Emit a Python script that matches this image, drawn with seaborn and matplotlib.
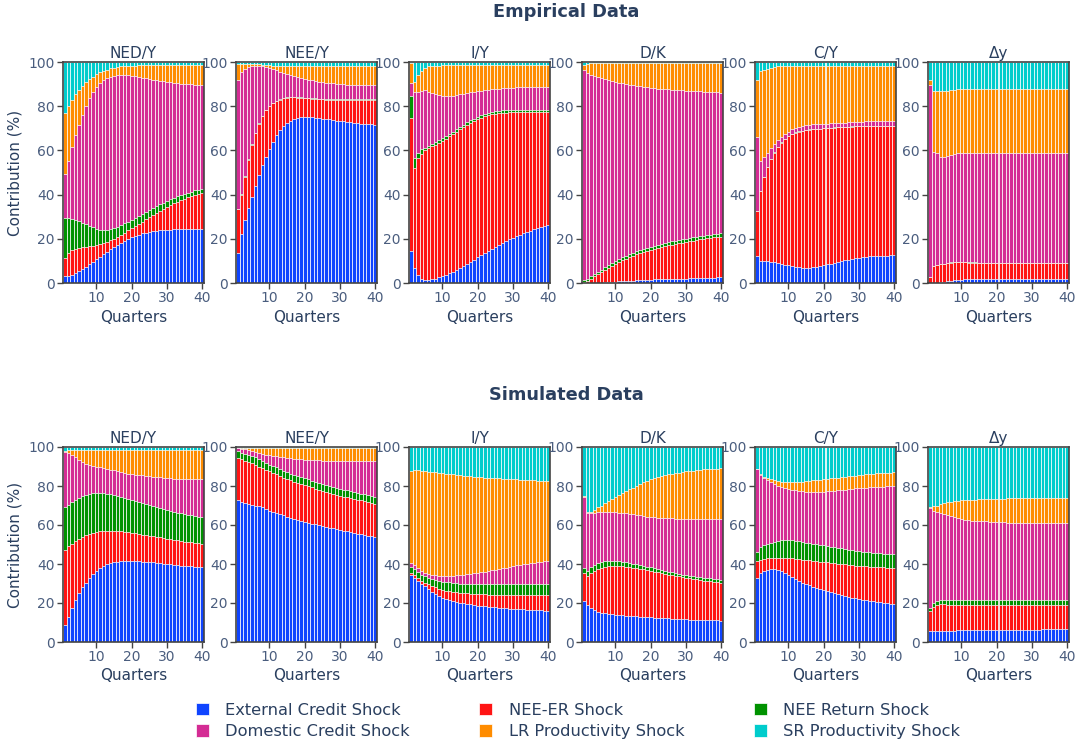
import matplotlib
matplotlib.use("Agg")
import matplotlib.pyplot as plt
from matplotlib.patches import Patch
import seaborn as sns

# ---------------------------------------------------------------------------
# Variance decomposition: cumulative stack tops (%) per quarter, bottom to top
# order = External credit, NEE-ER, NEE return, Domestic credit, LR productivity
# (SR productivity fills the rest up to 100).
# ---------------------------------------------------------------------------
QUARTERS = list(range(1, 41))
SHOCKS = ["External Credit Shock", "NEE-ER Shock", "NEE Return Shock",
          "Domestic Credit Shock", "LR Productivity Shock", "SR Productivity Shock"]
SHOCK_COLORS = ["#0F44FF", "#FF1414", "#009200", "#D42C94", "#FF8C00", "#00CCCC"]
VARIABLES = ["NED/Y", "NEE/Y", "I/Y", "D/K", "C/Y", "Δy"]
ROW_TITLES = ["Empirical Data", "Simulated Data"]

FULL = [100.0, 100.0, 100.0, 100.0, 100.0, 100.0, 100.0, 100.0, 100.0, 100.0,
        100.0, 100.0, 100.0, 100.0, 100.0, 100.0, 100.0, 100.0, 100.0, 100.0,
        100.0, 100.0, 100.0, 100.0, 100.0, 100.0, 100.0, 100.0, 100.0, 100.0,
        100.0, 100.0, 100.0, 100.0, 100.0, 100.0, 100.0, 100.0, 100.0, 100.0]

# ----------------------------- empirical ------------------------------------
emp_ned_y = [
    [3.2, 3.3, 3.8, 4.5, 5.3, 6.3, 7.4, 8.5, 9.6, 10.7,
     11.9, 13.0, 14.1, 15.2, 16.3, 17.3, 18.3, 19.2, 20.0, 20.8,
     21.4, 21.9, 22.4, 22.8, 23.1, 23.4, 23.6, 23.8, 24.0, 24.1,
     24.2, 24.3, 24.4, 24.4, 24.5, 24.5, 24.5, 24.5, 24.5, 24.5],
    [11.5, 13.8, 15.0, 15.6, 16.0, 16.2, 16.4, 16.6, 16.8, 17.1,
     17.5, 18.0, 18.6, 19.3, 20.1, 21.0, 21.9, 22.8, 23.8, 24.8,
     25.8, 26.8, 27.8, 28.8, 29.8, 30.8, 31.7, 32.6, 33.5, 34.4,
     35.2, 36.0, 36.8, 37.5, 38.2, 38.8, 39.4, 39.9, 40.3, 40.7],
    [29.5, 29.3, 29.0, 28.5, 28.0, 27.3, 26.6, 25.9, 25.2, 24.6,
     24.2, 24.0, 24.1, 24.4, 24.9, 25.5, 26.2, 27.0, 27.8, 28.7,
     29.6, 30.5, 31.4, 32.3, 33.2, 34.0, 34.8, 35.6, 36.4, 37.2,
     37.9, 38.6, 39.2, 39.8, 40.4, 40.9, 41.4, 41.9, 42.3, 42.7],
    [49.5, 55.0, 61.5, 67.0, 71.5, 76.0, 80.0, 83.5, 86.5, 88.8,
     90.5, 91.8, 92.7, 93.3, 93.7, 93.9, 94.0, 94.0, 93.9, 93.7,
     93.5, 93.2, 92.9, 92.6, 92.3, 92.0, 91.7, 91.4, 91.2, 91.0,
     90.8, 90.6, 90.4, 90.2, 90.1, 90.0, 89.9, 89.8, 89.7, 89.6],
    [77.0, 80.0, 83.0, 85.5, 87.5, 89.3, 90.8, 92.2, 93.4, 94.4,
     95.3, 96.0, 96.6, 97.1, 97.5, 97.8, 98.0, 98.2, 98.3, 98.4,
     98.4, 98.5, 98.5, 98.5, 98.5, 98.5, 98.5, 98.5, 98.5, 98.5,
     98.5, 98.5, 98.5, 98.5, 98.5, 98.5, 98.5, 98.5, 98.5, 98.5],
]

emp_nee_y = [
    [13.5, 22.0, 28.5, 34.0, 39.0, 44.0, 48.8, 53.2, 57.2, 60.8,
     64.0, 66.8, 69.2, 71.0, 72.5, 73.5, 74.3, 74.8, 75.0, 75.1,
     75.1, 75.0, 74.8, 74.6, 74.4, 74.2, 74.0, 73.7, 73.5, 73.3,
     73.1, 72.9, 72.7, 72.5, 72.3, 72.1, 72.0, 71.9, 71.8, 71.7],
    [33.5, 40.0, 48.0, 55.8, 62.5, 67.8, 72.0, 75.5, 78.2, 80.0,
     81.3, 82.3, 83.0, 83.5, 83.8, 84.0, 84.0, 83.9, 83.8, 83.6,
     83.5, 83.4, 83.3, 83.2, 83.1, 83.0, 83.0, 83.0, 83.0, 83.0,
     83.0, 83.0, 83.0, 83.0, 83.0, 83.0, 83.0, 83.0, 83.0, 83.0],
    [33.7, 40.2, 48.2, 56.0, 62.7, 68.0, 72.2, 75.7, 78.4, 80.2,
     81.5, 82.5, 83.2, 83.7, 84.0, 84.2, 84.2, 84.1, 84.0, 83.8,
     83.7, 83.6, 83.5, 83.4, 83.3, 83.2, 83.2, 83.2, 83.2, 83.2,
     83.2, 83.2, 83.2, 83.2, 83.2, 83.2, 83.2, 83.2, 83.2, 83.2],
    [92.0, 95.5, 97.0, 97.6, 98.0, 98.1, 98.1, 98.0, 97.7, 97.3,
     96.8, 96.2, 95.6, 95.0, 94.5, 94.0, 93.5, 93.1, 92.7, 92.3,
     92.0, 91.7, 91.4, 91.1, 90.9, 90.7, 90.5, 90.3, 90.1, 90.0,
     89.9, 89.8, 89.7, 89.6, 89.6, 89.5, 89.5, 89.5, 89.5, 89.5],
    [99.0, 99.2, 99.3, 99.3, 99.2, 99.1, 99.0, 98.8, 98.7, 98.5,
     98.4, 98.3, 98.3, 98.2, 98.2, 98.2, 98.2, 98.2, 98.2, 98.2,
     98.2, 98.2, 98.2, 98.2, 98.2, 98.2, 98.2, 98.2, 98.2, 98.2,
     98.2, 98.2, 98.2, 98.2, 98.2, 98.2, 98.2, 98.2, 98.2, 98.2],
]

emp_i_y = [
    [14.5, 7.0, 3.5, 2.0, 1.5, 1.5, 1.6, 2.0, 2.5, 3.0,
     3.6, 4.3, 5.1, 5.9, 6.8, 7.7, 8.6, 9.6, 10.6, 11.6,
     12.6, 13.6, 14.6, 15.5, 16.4, 17.3, 18.2, 19.0, 19.8, 20.5,
     21.2, 21.9, 22.5, 23.1, 23.7, 24.3, 24.8, 25.3, 25.8, 26.3],
    [74.5, 52.0, 56.5, 58.5, 60.0, 61.0, 61.8, 62.6, 63.4, 64.2,
     65.2, 66.3, 67.4, 68.5, 69.6, 70.6, 71.6, 72.5, 73.3, 74.1,
     74.8, 75.4, 75.9, 76.3, 76.6, 76.8, 77.0, 77.1, 77.2, 77.2,
     77.2, 77.2, 77.2, 77.2, 77.2, 77.2, 77.2, 77.2, 77.2, 77.2],
    [84.5, 56.5, 59.0, 60.5, 61.3, 62.2, 63.0, 63.8, 64.6, 65.4,
     66.4, 67.4, 68.5, 69.6, 70.7, 71.7, 72.7, 73.6, 74.4, 75.2,
     75.9, 76.5, 77.0, 77.4, 77.7, 77.9, 78.1, 78.2, 78.3, 78.3,
     78.3, 78.3, 78.3, 78.3, 78.3, 78.3, 78.3, 78.3, 78.3, 78.3],
    [90.5, 86.5, 86.5, 87.0, 87.5, 86.5, 86.0, 85.5, 85.0, 84.7,
     84.5, 84.5, 84.7, 85.0, 85.3, 85.6, 85.9, 86.2, 86.5, 86.8,
     87.0, 87.2, 87.4, 87.6, 87.8, 88.0, 88.1, 88.2, 88.3, 88.4,
     88.5, 88.5, 88.5, 88.5, 88.5, 88.5, 88.5, 88.5, 88.5, 88.5],
    [99.5, 91.0, 94.0, 96.0, 97.5, 98.0, 98.2, 98.3, 98.4, 98.5,
     98.5, 98.5, 98.5, 98.5, 98.5, 98.5, 98.5, 98.5, 98.5, 98.5,
     98.5, 98.5, 98.5, 98.5, 98.5, 98.5, 98.5, 98.5, 98.5, 98.5,
     98.5, 98.5, 98.5, 98.5, 98.5, 98.5, 98.5, 98.5, 98.5, 98.5],
]

emp_d_k = [
    [0.0, 0.0, 0.0, 0.0, 0.1, 0.2, 0.3, 0.4, 0.5, 0.6,
     0.7, 0.8, 0.9, 1.0, 1.1, 1.2, 1.3, 1.4, 1.5, 1.5,
     1.6, 1.6, 1.7, 1.7, 1.8, 1.8, 1.9, 1.9, 2.0, 2.0,
     2.1, 2.1, 2.2, 2.2, 2.3, 2.3, 2.4, 2.4, 2.5, 2.5],
    [0.3, 1.0, 2.0, 3.0, 4.0, 5.0, 6.0, 7.0, 7.9, 8.7,
     9.5, 10.3, 11.0, 11.7, 12.3, 12.9, 13.5, 14.0, 14.5, 15.0,
     15.4, 15.8, 16.2, 16.6, 17.0, 17.3, 17.6, 17.9, 18.2, 18.5,
     18.8, 19.1, 19.4, 19.7, 19.9, 20.2, 20.4, 20.6, 20.8, 21.0],
    [1.2, 2.0, 3.0, 4.0, 5.1, 6.1, 7.2, 8.2, 9.1, 10.0,
     10.8, 11.6, 12.4, 13.1, 13.8, 14.4, 15.0, 15.5, 16.0, 16.5,
     16.9, 17.3, 17.7, 18.1, 18.5, 18.8, 19.1, 19.4, 19.7, 20.0,
     20.3, 20.6, 20.9, 21.2, 21.4, 21.7, 21.9, 22.1, 22.3, 22.5],
    [96.5, 95.0, 94.3, 93.7, 93.1, 92.6, 92.1, 91.7, 91.3, 90.9,
     90.6, 90.3, 90.0, 89.7, 89.4, 89.2, 89.0, 88.8, 88.6, 88.4,
     88.2, 88.0, 87.8, 87.7, 87.6, 87.5, 87.4, 87.3, 87.2, 87.1,
     87.0, 86.9, 86.8, 86.7, 86.6, 86.5, 86.4, 86.3, 86.2, 86.1],
    [98.5, 99.3, 99.5, 99.5, 99.5, 99.5, 99.5, 99.5, 99.5, 99.5,
     99.5, 99.5, 99.5, 99.5, 99.5, 99.5, 99.5, 99.5, 99.5, 99.5,
     99.5, 99.5, 99.5, 99.5, 99.5, 99.5, 99.5, 99.5, 99.5, 99.5,
     99.5, 99.5, 99.5, 99.5, 99.5, 99.5, 99.5, 99.5, 99.5, 99.5],
]

emp_c_y = [
    [12.0, 10.0, 10.0, 10.0, 9.5, 9.3, 9.0, 8.7, 8.3, 8.0,
     7.7, 7.4, 7.2, 7.0, 7.0, 7.0, 7.1, 7.3, 7.6, 8.0,
     8.4, 8.8, 9.2, 9.6, 10.0, 10.3, 10.6, 10.9, 11.2, 11.5,
     11.7, 11.9, 12.0, 12.1, 12.2, 12.3, 12.4, 12.4, 12.5, 12.5],
    [32.5, 41.5, 48.0, 52.5, 56.0, 59.0, 61.5, 63.5, 65.0, 66.3,
     67.3, 68.0, 68.5, 68.9, 69.2, 69.4, 69.6, 69.7, 69.8, 70.0,
     70.1, 70.2, 70.3, 70.4, 70.5, 70.6, 70.7, 70.8, 70.9, 71.0,
     71.0, 71.0, 71.0, 71.0, 71.0, 71.0, 71.0, 71.0, 71.0, 71.0],
    [32.6, 41.6, 48.1, 52.6, 56.1, 59.1, 61.6, 63.6, 65.1, 66.4,
     67.4, 68.1, 68.6, 69.0, 69.3, 69.5, 69.7, 69.8, 69.9, 70.1,
     70.2, 70.3, 70.4, 70.5, 70.6, 70.7, 70.8, 70.9, 71.0, 71.1,
     71.1, 71.1, 71.1, 71.1, 71.1, 71.1, 71.1, 71.1, 71.1, 71.1],
    [66.0, 55.0, 57.0, 59.0, 61.0, 63.0, 64.5, 66.0, 67.5, 68.5,
     69.5, 70.3, 70.8, 71.2, 71.5, 71.7, 71.8, 71.9, 72.0, 72.0,
     72.1, 72.2, 72.3, 72.4, 72.5, 72.6, 72.7, 72.8, 72.9, 73.0,
     73.0, 73.1, 73.1, 73.2, 73.2, 73.3, 73.3, 73.3, 73.3, 73.3],
    [92.0, 96.0, 96.5, 97.0, 97.5, 97.8, 98.0, 98.1, 98.2, 98.3,
     98.3, 98.3, 98.3, 98.3, 98.3, 98.3, 98.3, 98.3, 98.3, 98.3,
     98.3, 98.3, 98.3, 98.3, 98.3, 98.3, 98.3, 98.3, 98.3, 98.3,
     98.3, 98.3, 98.3, 98.3, 98.3, 98.3, 98.3, 98.3, 98.3, 98.3],
]

emp_dy = [
    [0.0, 0.0, 0.2, 0.4, 0.6, 0.8, 1.0, 1.2, 1.4, 1.5,
     1.6, 1.6, 1.7, 1.7, 1.7, 1.7, 1.7, 1.7, 1.7, 1.7,
     1.7, 1.7, 1.7, 1.7, 1.7, 1.7, 1.7, 1.7, 1.7, 1.7,
     1.7, 1.7, 1.7, 1.7, 1.7, 1.7, 1.7, 1.7, 1.7, 1.7],
    [2.5, 7.8, 8.0, 8.5, 8.7, 9.0, 9.2, 9.3, 9.3, 9.3,
     9.3, 9.2, 9.2, 9.2, 9.1, 9.1, 9.1, 9.0, 9.0, 9.0,
     9.0, 9.0, 9.0, 9.0, 9.0, 9.0, 9.0, 9.0, 9.0, 9.0,
     9.0, 9.0, 9.0, 9.0, 9.0, 9.0, 9.0, 9.0, 9.0, 9.0],
    [2.6, 7.9, 8.1, 8.6, 8.8, 9.1, 9.3, 9.4, 9.4, 9.4,
     9.4, 9.3, 9.3, 9.3, 9.2, 9.2, 9.2, 9.1, 9.1, 9.1,
     9.1, 9.1, 9.1, 9.1, 9.1, 9.1, 9.1, 9.1, 9.1, 9.1,
     9.1, 9.1, 9.1, 9.1, 9.1, 9.1, 9.1, 9.1, 9.1, 9.1],
    [89.5, 59.5, 59.0, 57.0, 57.0, 57.5, 58.0, 58.5, 58.8, 59.0,
     59.0, 59.0, 59.0, 59.0, 59.0, 59.0, 59.0, 59.0, 59.0, 59.0,
     59.0, 59.0, 59.0, 59.0, 59.0, 59.0, 59.0, 59.0, 59.0, 59.0,
     59.0, 59.0, 59.0, 59.0, 59.0, 59.0, 59.0, 59.0, 59.0, 59.0],
    [92.0, 87.0, 87.0, 87.0, 87.0, 87.0, 87.2, 87.4, 87.6, 87.8,
     87.9, 88.0, 88.0, 88.0, 88.0, 88.0, 88.0, 88.0, 88.0, 88.0,
     88.0, 88.0, 88.0, 88.0, 88.0, 88.0, 88.0, 88.0, 88.0, 88.0,
     88.0, 88.0, 88.0, 88.0, 88.0, 88.0, 88.0, 88.0, 88.0, 88.0],
]

# ----------------------------- simulated ------------------------------------
sim_ned_y = [
    [8.5, 13.0, 17.5, 21.5, 25.0, 28.0, 30.5, 33.0, 35.0, 36.5,
     38.0, 39.0, 40.0, 40.5, 41.0, 41.2, 41.4, 41.5, 41.5, 41.5,
     41.4, 41.3, 41.2, 41.1, 41.0, 40.8, 40.6, 40.4, 40.2, 40.0,
     39.8, 39.6, 39.4, 39.2, 39.0, 38.9, 38.8, 38.7, 38.6, 38.5],
    [47.0, 49.0, 50.5, 52.0, 53.0, 54.0, 55.0, 55.5, 56.0, 56.5,
     56.8, 57.0, 57.0, 57.0, 57.0, 56.9, 56.8, 56.6, 56.3, 56.0,
     55.7, 55.4, 55.1, 54.8, 54.5, 54.2, 53.9, 53.6, 53.3, 53.0,
     52.7, 52.4, 52.1, 51.8, 51.5, 51.3, 51.1, 50.9, 50.7, 50.5],
    [69.0, 70.5, 72.0, 73.0, 74.0, 75.0, 75.5, 76.0, 76.2, 76.3,
     76.3, 76.2, 76.0, 75.7, 75.3, 74.9, 74.5, 74.0, 73.5, 73.0,
     72.5, 72.0, 71.5, 71.0, 70.5, 69.9, 69.3, 68.7, 68.1, 67.5,
     67.1, 66.7, 66.3, 65.9, 65.5, 65.2, 64.9, 64.6, 64.3, 64.0],
    [97.5, 97.0, 96.0, 95.0, 93.5, 92.5, 91.5, 91.0, 90.5, 90.0,
     89.5, 89.0, 88.7, 88.4, 88.0, 87.6, 87.2, 86.8, 86.4, 86.0,
     85.8, 85.6, 85.4, 85.2, 85.0, 84.8, 84.6, 84.4, 84.2, 84.0,
     83.9, 83.8, 83.7, 83.6, 83.5, 83.5, 83.5, 83.5, 83.5, 83.5],
    [98.0, 98.3, 98.5, 98.5, 98.5, 98.5, 98.5, 98.5, 98.5, 98.5,
     98.5, 98.5, 98.5, 98.5, 98.5, 98.5, 98.5, 98.5, 98.5, 98.5,
     98.5, 98.5, 98.5, 98.5, 98.5, 98.5, 98.5, 98.5, 98.5, 98.5,
     98.5, 98.5, 98.5, 98.5, 98.5, 98.5, 98.5, 98.5, 98.5, 98.5],
]

sim_nee_y = [
    [73.0, 72.0, 71.5, 71.0, 70.5, 70.0, 69.5, 69.0, 68.0, 67.0,
     66.5, 66.0, 65.5, 65.0, 64.3, 63.8, 63.2, 62.7, 62.1, 61.5,
     61.1, 60.7, 60.3, 59.9, 59.5, 59.1, 58.7, 58.3, 57.9, 57.5,
     57.1, 56.7, 56.3, 55.9, 55.5, 55.2, 54.9, 54.6, 54.3, 54.0],
    [94.5, 94.0, 93.0, 92.5, 92.0, 91.0, 90.0, 89.0, 88.2, 87.5,
     86.8, 86.0, 85.2, 84.3, 83.5, 82.9, 82.3, 81.7, 81.1, 80.5,
     79.9, 79.3, 78.7, 78.1, 77.5, 77.0, 76.5, 76.0, 75.5, 75.0,
     74.6, 74.2, 73.8, 73.4, 73.0, 72.6, 72.2, 71.8, 71.4, 71.0],
    [98.0, 97.0, 96.5, 96.0, 95.5, 95.0, 94.0, 93.0, 92.0, 91.0,
     90.2, 89.5, 88.7, 87.8, 87.0, 86.4, 85.8, 85.2, 84.6, 84.0,
     83.4, 82.8, 82.2, 81.6, 81.0, 80.5, 80.0, 79.5, 79.0, 78.5,
     78.1, 77.7, 77.3, 76.9, 76.5, 76.1, 75.7, 75.3, 74.9, 74.5],
    [99.5, 99.0, 98.8, 98.5, 98.0, 97.5, 97.0, 96.5, 96.0, 95.8,
     95.5, 95.2, 95.0, 94.8, 94.5, 94.3, 94.1, 93.9, 93.7, 93.5,
     93.4, 93.3, 93.2, 93.1, 93.0, 93.0, 93.0, 93.0, 93.0, 93.0,
     93.0, 93.0, 93.0, 93.0, 93.0, 93.0, 93.0, 93.0, 93.0, 93.0],
    [99.7, 99.5, 99.4, 99.3, 99.3, 99.3, 99.3, 99.3, 99.3, 99.3,
     99.3, 99.3, 99.3, 99.3, 99.3, 99.3, 99.3, 99.3, 99.3, 99.3,
     99.3, 99.3, 99.3, 99.3, 99.3, 99.3, 99.3, 99.3, 99.3, 99.3,
     99.3, 99.3, 99.3, 99.3, 99.3, 99.3, 99.3, 99.3, 99.3, 99.3],
]

sim_i_y = [
    [34.5, 33.0, 31.5, 30.0, 28.5, 27.0, 25.5, 24.5, 23.5, 22.5,
     22.0, 21.5, 21.0, 20.5, 20.2, 19.9, 19.6, 19.3, 19.0, 18.7,
     18.5, 18.3, 18.1, 17.9, 17.7, 17.5, 17.3, 17.2, 17.1, 17.0,
     16.9, 16.8, 16.7, 16.6, 16.5, 16.4, 16.3, 16.2, 16.1, 16.0],
    [35.5, 34.5, 33.0, 31.5, 30.5, 29.5, 28.5, 28.0, 27.3, 26.8,
     26.4, 26.0, 25.7, 25.4, 25.2, 25.0, 24.9, 24.8, 24.7, 24.6,
     24.5, 24.4, 24.3, 24.2, 24.1, 24.0, 24.0, 24.0, 24.0, 24.0,
     24.0, 24.0, 24.0, 24.0, 24.0, 24.0, 24.0, 24.0, 24.0, 24.0],
    [38.5, 37.5, 36.0, 34.5, 34.0, 33.0, 32.5, 32.0, 31.5, 31.0,
     30.8, 30.6, 30.4, 30.2, 30.0, 29.9, 29.8, 29.7, 29.6, 29.5,
     29.5, 29.5, 29.5, 29.5, 29.5, 29.5, 29.5, 29.5, 29.5, 29.5,
     29.5, 29.5, 29.5, 29.5, 29.5, 29.5, 29.5, 29.5, 29.5, 29.5],
    [40.5, 39.5, 38.0, 36.5, 35.5, 35.0, 34.5, 34.3, 34.1, 34.0,
     34.0, 34.0, 34.1, 34.2, 34.4, 34.6, 34.8, 35.0, 35.2, 35.5,
     35.8, 36.1, 36.4, 36.7, 37.0, 37.4, 37.8, 38.2, 38.6, 39.0,
     39.3, 39.6, 39.9, 40.2, 40.5, 40.7, 40.9, 41.1, 41.3, 41.5],
    [87.5, 88.0, 88.0, 87.8, 87.5, 87.3, 87.2, 87.0, 86.8, 86.5,
     86.3, 86.1, 85.9, 85.7, 85.5, 85.3, 85.1, 84.9, 84.7, 84.5,
     84.4, 84.3, 84.2, 84.1, 84.0, 83.9, 83.8, 83.7, 83.6, 83.5,
     83.4, 83.3, 83.2, 83.1, 83.0, 82.9, 82.8, 82.7, 82.6, 82.5],
]

sim_d_k = [
    [21.0, 19.0, 17.5, 16.5, 15.5, 15.0, 14.8, 14.5, 14.3, 14.0,
     13.9, 13.7, 13.5, 13.4, 13.2, 13.1, 13.0, 12.9, 12.8, 12.6,
     12.5, 12.4, 12.3, 12.2, 12.1, 12.0, 11.9, 11.8, 11.7, 11.6,
     11.5, 11.5, 11.4, 11.4, 11.3, 11.3, 11.2, 11.2, 11.1, 11.0],
    [35.5, 34.0, 35.5, 36.5, 37.5, 38.0, 38.5, 39.0, 39.0, 39.0,
     39.0, 38.8, 38.6, 38.4, 38.2, 37.9, 37.6, 37.2, 36.9, 36.5,
     36.1, 35.7, 35.3, 34.9, 34.5, 34.2, 33.9, 33.6, 33.3, 33.0,
     32.7, 32.4, 32.1, 31.8, 31.5, 31.3, 31.1, 30.9, 30.7, 30.5],
    [38.0, 36.5, 38.5, 39.5, 40.5, 41.0, 41.5, 41.7, 41.7, 41.5,
     41.3, 41.0, 40.8, 40.5, 40.2, 39.9, 39.5, 39.1, 38.7, 38.3,
     37.8, 37.4, 36.9, 36.5, 36.0, 35.7, 35.3, 35.0, 34.6, 34.3,
     34.0, 33.8, 33.5, 33.3, 33.0, 32.8, 32.6, 32.4, 32.2, 32.0],
    [74.5, 66.0, 66.0, 66.2, 66.5, 66.5, 66.7, 66.7, 66.5, 66.5,
     66.3, 66.0, 65.9, 65.7, 65.5, 65.2, 64.9, 64.6, 64.3, 64.0,
     63.9, 63.8, 63.7, 63.6, 63.5, 63.4, 63.3, 63.2, 63.1, 63.0,
     63.0, 63.0, 63.0, 63.0, 63.0, 63.0, 63.0, 63.0, 63.0, 63.0],
    [75.0, 66.5, 66.8, 67.5, 69.0, 70.0, 71.5, 72.5, 73.5, 74.5,
     75.5, 76.5, 77.5, 78.3, 79.0, 80.0, 81.0, 82.0, 82.8, 83.5,
     84.0, 84.5, 85.0, 85.5, 86.0, 86.3, 86.6, 86.9, 87.2, 87.5,
     87.7, 87.9, 88.1, 88.3, 88.5, 88.6, 88.7, 88.8, 88.9, 89.0],
]

sim_c_y = [
    [33.0, 35.5, 36.5, 37.0, 37.2, 37.2, 37.0, 36.5, 35.5, 34.5,
     33.5, 32.5, 31.5, 30.5, 29.8, 29.1, 28.4, 27.7, 27.1, 26.5,
     25.9, 25.4, 24.9, 24.4, 24.0, 23.6, 23.2, 22.8, 22.4, 22.0,
     21.7, 21.4, 21.1, 20.8, 20.5, 20.3, 20.1, 19.9, 19.7, 19.5],
    [41.5, 42.0, 42.5, 43.0, 43.0, 43.2, 43.3, 43.3, 43.2, 43.0,
     42.9, 42.7, 42.5, 42.3, 42.0, 41.8, 41.6, 41.4, 41.2, 41.0,
     40.8, 40.6, 40.4, 40.2, 40.0, 39.8, 39.6, 39.4, 39.2, 39.0,
     38.9, 38.8, 38.7, 38.6, 38.5, 38.4, 38.3, 38.2, 38.1, 38.0],
    [46.0, 48.5, 50.0, 50.5, 51.0, 51.5, 52.0, 52.5, 52.5, 52.5,
     52.3, 52.0, 51.7, 51.4, 51.0, 50.7, 50.4, 50.1, 49.8, 49.5,
     49.2, 48.9, 48.6, 48.3, 48.0, 47.7, 47.4, 47.1, 46.8, 46.5,
     46.3, 46.1, 45.9, 45.7, 45.5, 45.4, 45.3, 45.2, 45.1, 45.0],
    [88.5, 85.5, 84.0, 83.0, 82.0, 81.0, 80.0, 79.5, 79.0, 78.5,
     78.1, 77.7, 77.4, 77.2, 77.0, 77.0, 77.0, 77.0, 77.0, 77.0,
     77.2, 77.4, 77.6, 77.8, 78.0, 78.2, 78.4, 78.6, 78.8, 79.0,
     79.1, 79.2, 79.3, 79.4, 79.5, 79.6, 79.7, 79.8, 79.9, 80.0],
    [88.5, 86.0, 84.5, 84.0, 83.5, 83.0, 82.5, 82.0, 81.8, 81.8,
     81.8, 81.9, 82.0, 82.2, 82.5, 82.7, 82.9, 83.1, 83.3, 83.5,
     83.7, 83.9, 84.1, 84.3, 84.5, 84.7, 84.9, 85.1, 85.3, 85.5,
     85.7, 85.9, 86.1, 86.3, 86.5, 86.6, 86.7, 86.8, 86.9, 87.0],
]

sim_dy = [
    [5.5, 5.5, 5.6, 5.6, 5.7, 5.7, 5.8, 5.8, 5.9, 5.9,
     6.0, 6.0, 6.0, 6.0, 6.1, 6.1, 6.1, 6.1, 6.2, 6.2,
     6.2, 6.2, 6.3, 6.3, 6.3, 6.3, 6.3, 6.4, 6.4, 6.4,
     6.4, 6.4, 6.5, 6.5, 6.5, 6.5, 6.5, 6.5, 6.5, 6.5],
    [16.0, 18.0, 19.0, 19.3, 19.3, 19.2, 19.2, 19.2, 19.2, 19.2,
     19.2, 19.2, 19.2, 19.2, 19.2, 19.2, 19.2, 19.2, 19.2, 19.2,
     19.2, 19.2, 19.2, 19.2, 19.2, 19.2, 19.2, 19.2, 19.2, 19.2,
     19.2, 19.2, 19.2, 19.2, 19.2, 19.2, 19.2, 19.2, 19.2, 19.2],
    [17.5, 20.0, 21.0, 21.3, 21.3, 21.3, 21.3, 21.3, 21.3, 21.3,
     21.3, 21.3, 21.3, 21.3, 21.3, 21.3, 21.3, 21.3, 21.3, 21.3,
     21.3, 21.3, 21.3, 21.3, 21.3, 21.3, 21.3, 21.3, 21.3, 21.3,
     21.3, 21.3, 21.3, 21.3, 21.3, 21.3, 21.3, 21.3, 21.3, 21.3],
    [68.5, 67.0, 66.5, 66.0, 65.5, 65.0, 64.5, 64.0, 63.5, 63.0,
     62.8, 62.5, 62.3, 62.1, 62.0, 61.9, 61.8, 61.7, 61.6, 61.5,
     61.4, 61.3, 61.2, 61.1, 61.0, 61.0, 61.0, 61.0, 61.0, 61.0,
     61.0, 61.0, 61.0, 61.0, 61.0, 61.0, 61.0, 61.0, 61.0, 61.0],
    [69.0, 69.5, 70.0, 70.8, 71.3, 71.7, 72.0, 72.3, 72.5, 72.6,
     72.7, 72.8, 72.9, 73.0, 73.1, 73.2, 73.3, 73.4, 73.5, 73.5,
     73.5, 73.5, 73.6, 73.6, 73.6, 73.6, 73.7, 73.7, 73.7, 73.7,
     73.8, 73.8, 73.8, 73.8, 73.9, 73.9, 73.9, 74.0, 74.0, 74.0],
]

EMPIRICAL = [emp_ned_y, emp_nee_y, emp_i_y, emp_d_k, emp_c_y, emp_dy]
SIMULATED = [sim_ned_y, sim_nee_y, sim_i_y, sim_d_k, sim_c_y, sim_dy]

# ------------------------------- styling ------------------------------------
sns.set_theme(style="white")
plt.rcParams["font.family"] = ["DejaVu Sans"]

TEXT = "#2a3f5f"
TICK_TEXT = "#4a5d7e"
FRAME = "#444444"
W, H = 1076, 747

fig = plt.figure(figsize=(W / 100, H / 100), dpi=100)

# (row data, top pixel, bottom pixel, title centre pixel)
rows = [(EMPIRICAL, 62, 283, 12), (SIMULATED, 447, 642, 395)]

for r, (row_levels, top_px, bot_px, title_px) in enumerate(rows):
    fig.text(566 / W, 1 - title_px / H, ROW_TITLES[r], ha="center", va="center",
             fontsize=12.8, fontweight="bold", color=TEXT)
    for c, (name, levels) in enumerate(zip(VARIABLES, row_levels)):
        left_px = 63 + c * 173
        ax = fig.add_axes([left_px / W, 1 - bot_px / H, 141 / W, (bot_px - top_px) / H])
        stack_tops = list(levels) + [FULL]
        # draw from the outermost layer inward so each shock shows its own band
        for k in range(len(stack_tops) - 1, -1, -1):
            sns.barplot(x=QUARTERS, y=stack_tops[k], orient="x", native_scale=True,
                        width=1.0, color=SHOCK_COLORS[k], saturation=1,
                        edgecolor="white", linewidth=0.5, errorbar=None, ax=ax)
        ax.set_xlim(0.5, 40.5)
        ax.set_ylim(0, 100)
        ax.set_xticks([10, 20, 30, 40])
        ax.set_yticks([0, 20, 40, 60, 80, 100])
        ax.tick_params(axis="both", direction="out", length=4, width=1, color=FRAME,
                       labelsize=10, labelcolor=TICK_TEXT, left=True, bottom=True, pad=2)
        for sp in ax.spines.values():
            sp.set_visible(True)
            sp.set_color(FRAME)
            sp.set_linewidth(1.2)
        ax.set_title(name, fontsize=11, color=TEXT, pad=3)
        ax.set_xlabel("Quarters", fontsize=11, color=TEXT, labelpad=3)
        if c == 0:
            ax.set_ylabel("Contribution (%)", fontsize=11, color=TEXT, labelpad=4)
        else:
            ax.set_ylabel("")

# legend: two rows of three, filled column by column
order = [0, 3, 1, 4, 2, 5]
handles = [Patch(facecolor=SHOCK_COLORS[i], edgecolor="white", linewidth=0.5) for i in order]
labels = [SHOCKS[i] for i in order]
fig.legend(handles, labels, loc="center", bbox_to_anchor=(578 / W, 1 - 721 / H),
           ncol=3, frameon=False, fontsize=11.7, handlelength=0.8, handleheight=0.8,
           handletextpad=1.0, columnspacing=4.3, labelspacing=0.4, labelcolor=TEXT)

fig.savefig("out.png", dpi=100)
